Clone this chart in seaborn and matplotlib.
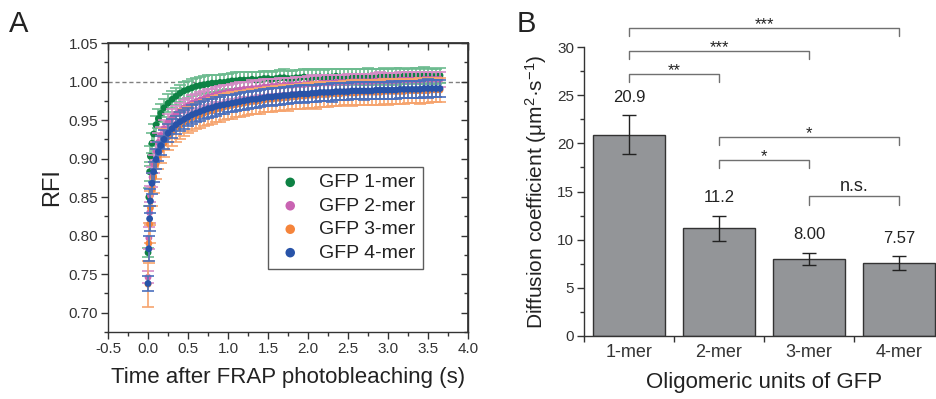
import numpy as np
import pandas as pd
import matplotlib
matplotlib.use('Agg')
import matplotlib.pyplot as plt
import seaborn as sns
from matplotlib.ticker import MultipleLocator, FormatStrFormatter

# ---- panel A: FRAP recovery curves ----
time_s = [0.00, 0.01, 0.02, 0.03, 0.05, 0.07, 0.10, 0.13, 0.16, 0.20,
          0.25, 0.30, 0.35, 0.40, 0.45, 0.50, 0.55, 0.60, 0.65, 0.70,
          0.75, 0.80, 0.85, 0.90, 0.95, 1.00, 1.05, 1.10, 1.15, 1.20,
          1.25, 1.30, 1.35, 1.40, 1.45, 1.50, 1.55, 1.60, 1.65, 1.70,
          1.75, 1.80, 1.85, 1.90, 1.95, 2.00, 2.05, 2.10, 2.15, 2.20,
          2.25, 2.30, 2.35, 2.40, 2.45, 2.50, 2.55, 2.60, 2.65, 2.70,
          2.75, 2.80, 2.85, 2.90, 2.95, 3.00, 3.05, 3.10, 3.15, 3.20,
          3.25, 3.30, 3.35, 3.40, 3.45, 3.50, 3.55, 3.60, 3.65]

rfi_1mer = [0.778, 0.850, 0.883, 0.903, 0.920, 0.932, 0.944, 0.952, 0.959, 0.966,
            0.972, 0.977, 0.981, 0.985, 0.988, 0.990, 0.992, 0.994, 0.995, 0.996,
            0.997, 0.998, 0.998, 0.999, 0.999, 1.000, 1.001, 1.001, 1.002, 1.002,
            1.002, 1.003, 1.002, 1.003, 1.004, 1.004, 1.003, 1.004, 1.005, 1.005,
            1.004, 1.004, 1.005, 1.005, 1.006, 1.005, 1.005, 1.006, 1.006, 1.005,
            1.006, 1.006, 1.007, 1.006, 1.006, 1.006, 1.007, 1.007, 1.006, 1.006,
            1.007, 1.007, 1.006, 1.007, 1.008, 1.006, 1.007, 1.007, 1.008, 1.007,
            1.007, 1.008, 1.008, 1.007, 1.008, 1.008, 1.007, 1.007, 1.008]
err_1mer = [0.006, 0.012, 0.012, 0.013, 0.013, 0.013, 0.012, 0.012, 0.012, 0.012,
            0.012, 0.011, 0.011, 0.011, 0.011, 0.011, 0.011, 0.011, 0.011, 0.011,
            0.011, 0.011, 0.011, 0.010, 0.011, 0.010, 0.010, 0.011, 0.010, 0.010,
            0.010, 0.010, 0.011, 0.010, 0.010, 0.010, 0.010, 0.010, 0.010, 0.011,
            0.010, 0.010, 0.010, 0.010, 0.010, 0.011, 0.010, 0.010, 0.010, 0.010,
            0.010, 0.010, 0.010, 0.011, 0.010, 0.010, 0.010, 0.010, 0.010, 0.010,
            0.011, 0.010, 0.010, 0.010, 0.010, 0.010, 0.010, 0.011, 0.010, 0.010,
            0.010, 0.010, 0.010, 0.010, 0.011, 0.010, 0.010, 0.010, 0.010]

rfi_2mer = [0.746, 0.797, 0.830, 0.852, 0.876, 0.893, 0.910, 0.921, 0.930, 0.939,
            0.947, 0.953, 0.958, 0.962, 0.966, 0.969, 0.972, 0.974, 0.976, 0.978,
            0.980, 0.981, 0.983, 0.984, 0.985, 0.986, 0.987, 0.988, 0.989, 0.990,
            0.990, 0.991, 0.991, 0.992, 0.993, 0.993, 0.994, 0.994, 0.994, 0.995,
            0.995, 0.995, 0.996, 0.996, 0.996, 0.997, 0.997, 0.997, 0.998, 0.998,
            0.998, 0.998, 0.999, 0.999, 0.999, 0.999, 1.000, 1.000, 1.000, 1.000,
            1.000, 1.000, 1.001, 1.001, 1.001, 1.001, 1.001, 1.001, 1.002, 1.002,
            1.002, 1.002, 1.002, 1.002, 1.003, 1.003, 1.003, 1.003, 1.003]
err_2mer = [0.008, 0.014, 0.014, 0.013, 0.013, 0.012, 0.012, 0.012, 0.011, 0.011,
            0.011, 0.011, 0.010, 0.010, 0.010, 0.010, 0.010, 0.010, 0.010, 0.010,
            0.010, 0.010, 0.010, 0.010, 0.011, 0.010, 0.010, 0.010, 0.010, 0.010,
            0.010, 0.011, 0.010, 0.010, 0.010, 0.010, 0.010, 0.010, 0.011, 0.010,
            0.010, 0.010, 0.010, 0.010, 0.010, 0.010, 0.011, 0.010, 0.010, 0.010,
            0.010, 0.010, 0.010, 0.010, 0.010, 0.011, 0.010, 0.010, 0.010, 0.010,
            0.010, 0.010, 0.010, 0.011, 0.010, 0.010, 0.010, 0.010, 0.010, 0.010,
            0.011, 0.010, 0.010, 0.010, 0.010, 0.010, 0.010, 0.010, 0.010]

rfi_3mer = [0.737, 0.790, 0.815, 0.836, 0.860, 0.876, 0.893, 0.904, 0.912, 0.920,
            0.928, 0.934, 0.939, 0.943, 0.947, 0.950, 0.953, 0.955, 0.957, 0.959,
            0.961, 0.962, 0.964, 0.965, 0.967, 0.968, 0.969, 0.970, 0.971, 0.972,
            0.973, 0.974, 0.974, 0.975, 0.976, 0.977, 0.977, 0.978, 0.978, 0.979,
            0.979, 0.980, 0.980, 0.981, 0.981, 0.982, 0.982, 0.982, 0.983, 0.983,
            0.983, 0.984, 0.984, 0.984, 0.985, 0.985, 0.985, 0.985, 0.986, 0.986,
            0.986, 0.986, 0.986, 0.986, 0.987, 0.987, 0.987, 0.987, 0.987, 0.987,
            0.988, 0.988, 0.988, 0.988, 0.988, 0.988, 0.989, 0.989, 0.989]
err_3mer = [0.030, 0.026, 0.024, 0.022, 0.021, 0.020, 0.019, 0.018, 0.018, 0.018,
            0.017, 0.017, 0.017, 0.017, 0.017, 0.017, 0.017, 0.017, 0.017, 0.017,
            0.017, 0.017, 0.017, 0.017, 0.017, 0.017, 0.017, 0.016, 0.017, 0.016,
            0.016, 0.016, 0.016, 0.017, 0.016, 0.016, 0.016, 0.016, 0.016, 0.016,
            0.017, 0.016, 0.016, 0.016, 0.016, 0.016, 0.016, 0.017, 0.016, 0.016,
            0.016, 0.016, 0.016, 0.016, 0.016, 0.016, 0.017, 0.016, 0.016, 0.016,
            0.016, 0.016, 0.016, 0.016, 0.016, 0.017, 0.016, 0.016, 0.016, 0.016,
            0.016, 0.016, 0.016, 0.017, 0.016, 0.016, 0.016, 0.016, 0.016]

rfi_4mer = [0.738, 0.783, 0.822, 0.845, 0.868, 0.883, 0.899, 0.909, 0.917, 0.925,
            0.933, 0.939, 0.944, 0.948, 0.951, 0.954, 0.957, 0.959, 0.961, 0.963,
            0.965, 0.966, 0.968, 0.969, 0.970, 0.971, 0.972, 0.973, 0.974, 0.975,
            0.976, 0.977, 0.977, 0.978, 0.979, 0.980, 0.980, 0.981, 0.981, 0.982,
            0.982, 0.983, 0.983, 0.984, 0.984, 0.984, 0.985, 0.985, 0.986, 0.986,
            0.986, 0.986, 0.987, 0.987, 0.987, 0.987, 0.988, 0.988, 0.988, 0.988,
            0.988, 0.988, 0.989, 0.989, 0.989, 0.989, 0.989, 0.989, 0.990, 0.990,
            0.990, 0.990, 0.990, 0.990, 0.991, 0.991, 0.991, 0.991, 0.991]
err_4mer = [0.010, 0.016, 0.016, 0.015, 0.014, 0.013, 0.013, 0.012, 0.012, 0.012,
            0.012, 0.012, 0.012, 0.012, 0.012, 0.012, 0.012, 0.012, 0.012, 0.012,
            0.012, 0.012, 0.012, 0.011, 0.012, 0.011, 0.011, 0.011, 0.011, 0.012,
            0.011, 0.011, 0.011, 0.011, 0.011, 0.011, 0.012, 0.011, 0.011, 0.011,
            0.011, 0.011, 0.011, 0.011, 0.012, 0.011, 0.011, 0.011, 0.011, 0.011,
            0.011, 0.012, 0.011, 0.011, 0.011, 0.011, 0.011, 0.011, 0.011, 0.012,
            0.011, 0.011, 0.011, 0.011, 0.011, 0.011, 0.012, 0.011, 0.011, 0.011,
            0.011, 0.011, 0.011, 0.011, 0.011, 0.012, 0.011, 0.011, 0.011]

series_names = ['GFP 1-mer', 'GFP 2-mer', 'GFP 3-mer', 'GFP 4-mer']
dot_colors = ['#0e8244', '#c963b2', '#f5843b', '#2853a8']
bar_colors = ['#6cbb8f', '#d68bc6', '#f6a46e', '#4a70bd']

# ---- panel B: diffusion coefficients ----
oligomers = ['1-mer', '2-mer', '3-mer', '4-mer']
diff_coef = [20.9, 11.2, 8.00, 7.57]
diff_err = [2.0, 1.3, 0.65, 0.7]
value_labels = ['20.9', '11.2', '8.00', '7.57']

sig_pairs = [(0, 3), (0, 2), (0, 1), (1, 3), (1, 2), (2, 3)]
sig_heights = [32.0, 29.6, 27.2, 20.7, 18.3, 14.5]
sig_labels = ['***', '***', '**', '*', '*', 'n.s.']

sns.set_theme(style='ticks')
plt.rcParams['font.family'] = ['Liberation Sans', 'DejaVu Sans']
plt.rcParams['mathtext.fontset'] = 'custom'
plt.rcParams['mathtext.rm'] = 'Liberation Sans'
plt.rcParams['mathtext.it'] = 'Liberation Sans'
plt.rcParams['text.color'] = '#222222'
plt.rcParams['axes.labelcolor'] = '#222222'
plt.rcParams['xtick.color'] = '#333333'
plt.rcParams['ytick.color'] = '#333333'
plt.rcParams['axes.edgecolor'] = '#333333'

fig = plt.figure(figsize=(9.37, 3.99), dpi=100)
ax_a = fig.add_axes([0.1153, 0.168, 0.3842, 0.724])
ax_b = fig.add_axes([0.6233, 0.158, 0.3842, 0.724])

# ---------------- panel A ----------------
curves = [rfi_1mer, rfi_2mer, rfi_3mer, rfi_4mer]
errors = [err_1mer, err_2mer, err_3mer, err_4mer]
frames = []
for name, vals, errs in zip(series_names, curves, errors):
    frames.append(pd.DataFrame({'t': time_s, 'RFI': vals, 'err': errs, 'series': name}))
df = pd.concat(frames, ignore_index=True)

ax_a.axhline(1.0, ls='--', color='#808080', lw=1.0, zorder=0, dashes=(3, 2))
for i, name in enumerate(series_names):
    sub = df[df['series'] == name]
    ax_a.errorbar(sub['t'], sub['RFI'], yerr=sub['err'], fmt='none',
                  ecolor=bar_colors[i], elinewidth=1.2, capsize=4, capthick=1.2,
                  zorder=2 + 2 * i)
    sns.scatterplot(data=sub, x='t', y='RFI', color=dot_colors[i], s=24,
                    edgecolor='none', label=name, ax=ax_a, zorder=3 + 2 * i)

ax_a.set_xlim(-0.5, 4.0)
ax_a.set_ylim(0.675, 1.05)
ax_a.xaxis.set_major_locator(MultipleLocator(0.5))
ax_a.xaxis.set_minor_locator(MultipleLocator(0.25))
ax_a.yaxis.set_major_locator(MultipleLocator(0.05))
ax_a.yaxis.set_minor_locator(MultipleLocator(0.025))
ax_a.xaxis.set_major_formatter(FormatStrFormatter('%.1f'))
ax_a.yaxis.set_major_formatter(FormatStrFormatter('%.2f'))
ax_a.tick_params(which='both', direction='out', width=1, labelsize=11, pad=2)
ax_a.tick_params(which='major', length=5)
ax_a.tick_params(which='minor', length=3)
for sp in ax_a.spines.values():
    sp.set_linewidth(1.0)

top = ax_a.secondary_xaxis('top')
top.xaxis.set_major_locator(MultipleLocator(0.5))
top.xaxis.set_minor_locator(MultipleLocator(0.25))
top.tick_params(which='both', direction='in', labeltop=False, width=1)
top.tick_params(which='major', length=5)
top.tick_params(which='minor', length=3)
right = ax_a.secondary_yaxis('right')
right.yaxis.set_major_locator(MultipleLocator(0.05))
right.yaxis.set_minor_locator(MultipleLocator(0.025))
right.tick_params(which='both', direction='in', labelright=False, width=1)
right.tick_params(which='major', length=5)
right.tick_params(which='minor', length=3)

ax_a.set_xlabel('Time after FRAP photobleaching (s)', fontsize=16, labelpad=8)
ax_a.set_ylabel('RFI', fontsize=17, labelpad=4)
leg = ax_a.legend(loc='upper left', bbox_to_anchor=(0.444, 0.571), borderaxespad=0,
                  fontsize=14, frameon=True, fancybox=False, edgecolor='#333333',
                  handlelength=1.6, handletextpad=0.7, borderpad=0.35,
                  labelspacing=0.3, markerscale=1.4)
leg.get_frame().set_linewidth(1.0)

# ---------------- panel B ----------------
df_b = pd.DataFrame({'oligo': oligomers, 'D': diff_coef, 'err': diff_err})
sns.barplot(data=df_b, x='oligo', y='D', color='#939598', saturation=1,
            edgecolor='#333333', linewidth=1.0, width=0.8, errorbar=None, ax=ax_b)
xpos = np.arange(len(oligomers))
ax_b.errorbar(xpos, df_b['D'], yerr=df_b['err'], fmt='none', ecolor='#222222',
              elinewidth=1.0, capsize=5, capthick=1.0, zorder=5)
for x, d, e, lab in zip(xpos, diff_coef, diff_err, value_labels):
    ax_b.annotate(lab, (x, d + e), xytext=(0, 13), textcoords='offset points',
                  ha='center', va='center', fontsize=12)

drop = 0.85
for (i, j), h, lab in zip(sig_pairs, sig_heights, sig_labels):
    ax_b.plot([i, i, j, j], [h - drop, h, h, h - drop], color='#707070', lw=1.0,
              clip_on=False, zorder=6)
    if lab == 'n.s.':
        ax_b.annotate(lab, ((i + j) / 2, h), xytext=(0, 1), textcoords='offset points',
                      ha='center', va='bottom', fontsize=13, annotation_clip=False)
    else:
        ax_b.annotate(lab, ((i + j) / 2, h), xytext=(0, -3), textcoords='offset points',
                      ha='center', va='bottom', fontsize=12, annotation_clip=False)

ax_b.set_xlim(-0.5, 3.5)
ax_b.set_ylim(0, 30)
ax_b.yaxis.set_major_locator(MultipleLocator(5))
ax_b.yaxis.set_minor_locator(MultipleLocator(2.5))
ax_b.set_xticks(xpos)
ax_b.set_xticks([-0.5, 0.5, 1.5, 2.5, 3.5], minor=True)
ax_b.tick_params(axis='x', which='major', length=0, labelsize=13, pad=6)
ax_b.tick_params(axis='x', which='minor', length=4, width=1, direction='out')
ax_b.tick_params(axis='y', which='major', length=5, width=1, labelsize=11, pad=2)
ax_b.tick_params(axis='y', which='minor', length=3, width=1)
sns.despine(ax=ax_b)
for sp in ax_b.spines.values():
    sp.set_linewidth(1.0)
ax_b.set_xlabel('Oligomeric units of GFP', fontsize=16, labelpad=8)
ax_b.set_ylabel('Diffusion coefficient (μm$^{2}$·s$^{-1}$)', fontsize=15, labelpad=6)

fig.text(0.010, 0.975, 'A', fontsize=21, va='top', ha='left')
fig.text(0.551, 0.975, 'B', fontsize=21, va='top', ha='left')

fig.savefig('out.png', dpi=100)
